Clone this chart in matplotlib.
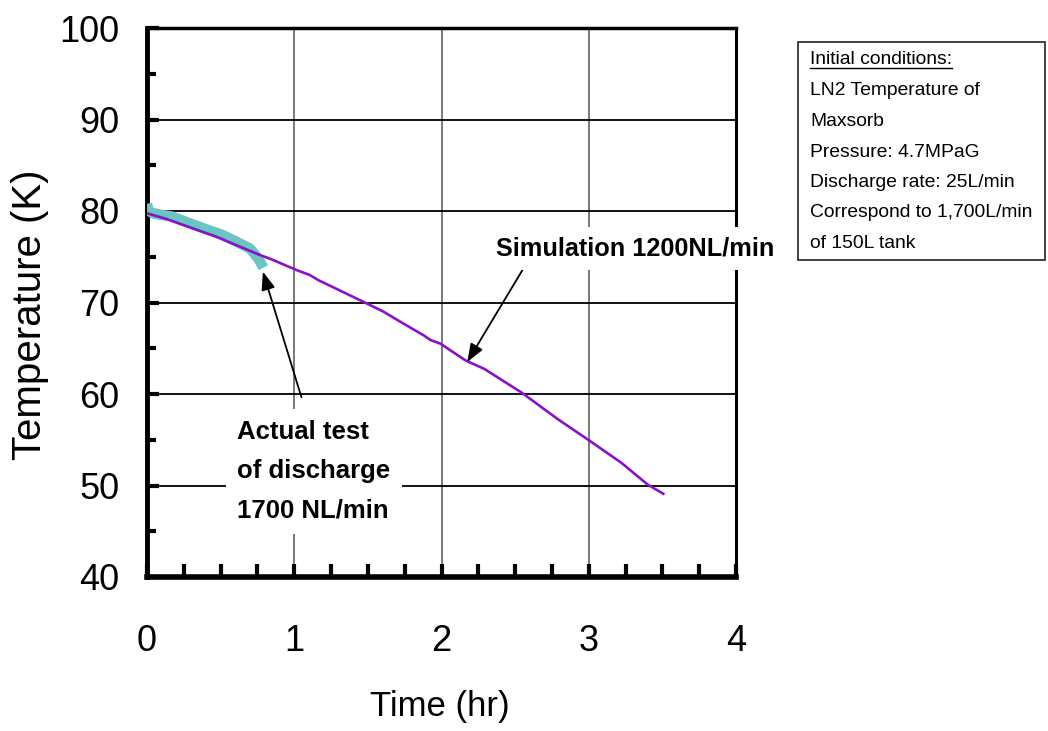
import matplotlib
matplotlib.use("Agg")
import matplotlib.pyplot as plt
from matplotlib.patches import Rectangle
from matplotlib.lines import Line2D
from matplotlib.ticker import MultipleLocator

# Simulated tank temperature (1200 NL/min)
sim_time = [0.0, 0.128, 0.469, 0.765, 0.833, 1.015, 1.106, 1.163, 1.447, 1.606,
            1.72, 1.88, 1.925, 1.993, 2.164, 2.29, 2.54, 2.79, 3.005, 3.22, 3.40, 3.506]
sim_temp = [79.75, 79.15, 77.2, 75.2, 74.8, 73.55, 73.0, 72.45, 70.25, 69.0,
            67.9, 66.4, 65.9, 65.5, 63.66, 62.75, 60.2, 57.25, 54.9, 52.5, 50.1, 49.1]

# Measured temperature during the discharge test (1700 NL/min)
test_time = [0.0, 0.01, 0.05, 0.17, 0.30, 0.42, 0.51, 0.60, 0.70, 0.76, 0.79]
test_temp = [80.8, 80.0, 79.7, 79.4, 78.6, 77.9, 77.4, 76.7, 75.9, 74.7, 73.8]

x_ticks = [0, 1, 2, 3, 4]
y_ticks = [40, 50, 60, 70, 80, 90, 100]

conditions_title = "Initial conditions:"
conditions_lines = ["LN2 Temperature of", "Maxsorb", "Pressure: 4.7MPaG",
                    "Discharge rate: 25L/min", "Correspond to 1,700L/min",
                    "of 150L tank"]

FONT = ["Liberation Sans", "DejaVu Sans"]

W, H = 1048, 731
fig = plt.figure(figsize=(W / 100, H / 100), dpi=100)
ax = fig.add_axes([147 / W, 1 - 577 / H, (736 - 147) / W, (577 - 28) / H])

ax.plot(test_time, test_temp, color="#6cc4c4", lw=7.5, solid_capstyle="butt",
        solid_joinstyle="round", zorder=3)
ax.plot(sim_time, sim_temp, color="#8a12c6", lw=1.9, zorder=4)

ax.set_xlim(0, 4)
ax.set_ylim(40, 100)
ax.set_xticks(x_ticks)
ax.set_yticks(y_ticks)
ax.xaxis.set_minor_locator(MultipleLocator(0.25))
ax.yaxis.set_minor_locator(MultipleLocator(5))

ax.grid(axis="y", which="major", color="black", lw=1.3, zorder=1)
ax.grid(axis="x", which="major", color="#555555", lw=1.1, zorder=1)
ax.set_axisbelow(True)

ax.tick_params(axis="x", which="both", direction="in", length=9.5, width=3,
               pad=34)
ax.tick_params(axis="y", which="major", direction="in", length=8.5, width=3,
               pad=20)
ax.tick_params(axis="y", which="minor", direction="in", length=6.5, width=3)
for lab in ax.get_xticklabels() + ax.get_yticklabels():
    lab.set_family(FONT)
    lab.set_fontsize(26)

ax.spines["left"].set_linewidth(3.5)
ax.spines["bottom"].set_linewidth(4)
ax.spines["top"].set_linewidth(2.5)
ax.spines["right"].set_linewidth(2.2)

ax.set_xlabel("Time (hr)", family=FONT, fontsize=25, va="center")
ax.xaxis.set_label_coords(0.497, -0.236)
ax.set_ylabel("Temperature (K)", family=FONT, fontsize=29, va="center")
ax.yaxis.set_label_coords(-0.199, 0.477)

arrow = dict(arrowstyle="-|>,head_length=1.1,head_width=0.42", color="black",
             lw=1.3, shrinkA=0, shrinkB=0)

ax.annotate("", xy=(2.175, 63.5), xytext=(2.55, 73.55), arrowprops=arrow,
            zorder=6)
ax.text(2.37, 75.9, "Simulation 1200NL/min", family=FONT, fontsize=18.2,
        fontweight="bold", ha="left", va="center", clip_on=False, zorder=7,
        bbox=dict(boxstyle="square,pad=0.38", fc="white", ec="none"))

ax.annotate("", xy=(0.787, 73.37), xytext=(1.049, 59.64), arrowprops=arrow,
            zorder=6)
ax.text(0.614, 51.54, "Actual test\nof discharge\n1700 NL/min", family=FONT,
        fontsize=18.5, fontweight="bold", ha="left", va="center",
        linespacing=1.8, zorder=7,
        bbox=dict(boxstyle="square,pad=0.45", fc="white", ec="none"))

# Box with the initial test conditions
box_l, box_r, box_t, box_b = 798, 1045, 42, 260
fig.add_artist(Rectangle((box_l / W, 1 - box_b / H), (box_r - box_l) / W,
                         (box_b - box_t) / H, transform=fig.transFigure,
                         fill=False, ec="#222222", lw=1.2))
text_x = 810 / W
box_size = 13.9
title = fig.text(text_x, 1 - 64 / H, conditions_title, family=FONT,
                 fontsize=box_size, va="baseline", ha="left")
baselines = [95, 126, 157, 187, 217, 248]
for line, yb in zip(conditions_lines, baselines):
    fig.text(text_x, 1 - yb / H, line, family=FONT, fontsize=box_size,
             va="baseline", ha="left")

renderer = fig.canvas.get_renderer()
bb = title.get_window_extent(renderer)
fig.add_artist(Line2D([bb.x0 / W, bb.x1 / W], [1 - 68 / H, 1 - 68 / H],
                      transform=fig.transFigure, color="black", lw=1.0))

fig.savefig("out.png", dpi=100)
